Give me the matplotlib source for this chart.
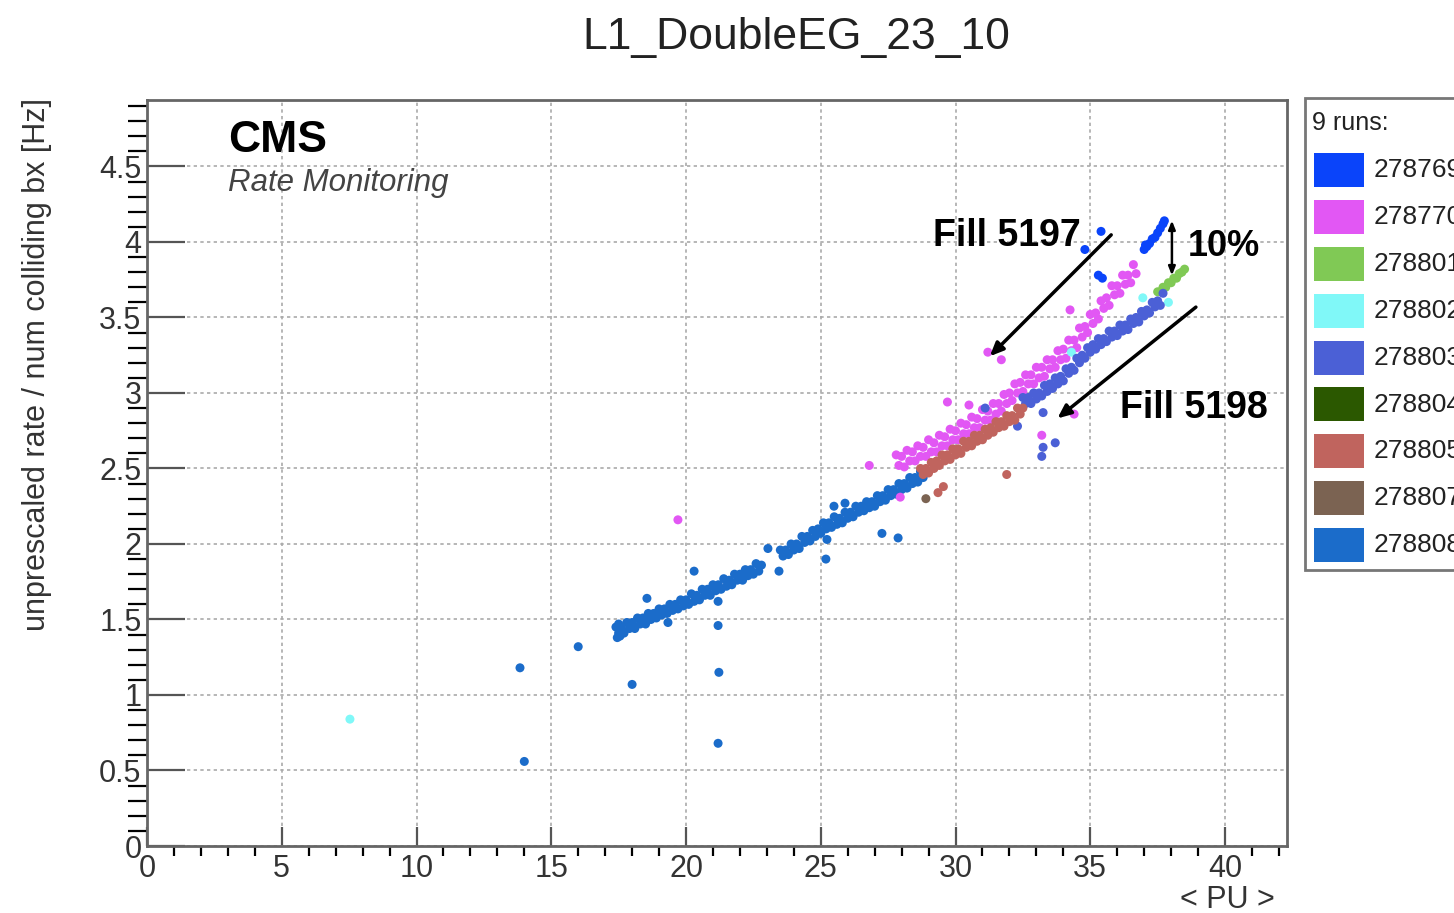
import matplotlib
matplotlib.use("Agg")
import matplotlib.pyplot as plt
from matplotlib.patches import Rectangle

plt.rcParams['font.family'] = ['Liberation Sans', 'DejaVu Sans']

runs = ["278769", "278770", "278801", "278802", "278803",
        "278804", "278805", "278807", "278808"]
colors = ["#0a44fa", "#e257f4", "#80c955", "#80f8f8", "#4b60d6",
          "#2b5800", "#c0645e", "#7b6352", "#1b6cca"]

# values: (< PU >, rate)
pu_278769 = [37.0, 37.05, 37.1, 37.2, 37.3, 37.4, 37.5, 37.6, 37.7, 37.75,
             35.4, 34.8, 35.3, 35.45]
rate_278769 = [3.95, 3.98, 3.97, 3.99, 4.02, 4.03, 4.06, 4.09, 4.12, 4.14,
               4.07, 3.95, 3.78, 3.76]

pu_278770 = [27.8, 27.9, 28.0, 28.1, 28.2, 28.3, 28.4, 28.5, 28.6, 28.7,
             28.8, 28.9, 29.0, 29.1, 29.2, 29.3, 29.4, 29.5, 29.6, 29.7,
             29.8, 29.9, 30.0, 30.1, 30.2, 30.3, 30.4, 30.5, 30.6, 30.7,
             30.8, 30.9, 31.0, 31.1, 31.2, 31.3, 31.4, 31.5, 31.6, 31.7,
             31.8, 31.9, 32.0, 32.1, 32.2, 32.3, 32.4, 32.5, 32.6, 32.7,
             32.8, 32.9, 33.0, 33.1, 33.2, 33.3, 33.4, 33.5, 33.6, 33.7,
             33.8, 33.9, 34.0, 34.1, 34.2, 34.3, 34.4, 34.5, 34.6, 34.7,
             34.8, 34.9, 35.0, 35.1, 35.2, 35.3, 35.4, 35.5, 35.6, 35.7,
             35.8, 35.9, 36.0, 36.1, 36.2, 36.3, 36.4, 36.5, 36.6, 36.7,
             31.2, 31.7, 29.7, 34.25, 34.4, 33.2, 30.5, 19.7, 26.8, 27.95]
rate_278770 = [2.59, 2.52, 2.58, 2.51, 2.62, 2.55, 2.61, 2.55, 2.65, 2.58,
               2.64, 2.58, 2.69, 2.61, 2.67, 2.61, 2.72, 2.65, 2.71, 2.65,
               2.76, 2.69, 2.75, 2.69, 2.80, 2.73, 2.79, 2.73, 2.84, 2.77,
               2.83, 2.77, 2.89, 2.82, 2.88, 2.82, 2.93, 2.86, 2.93, 2.88,
               2.99, 2.93, 3.00, 2.95, 3.06, 3.00, 3.07, 3.01, 3.12, 3.06,
               3.12, 3.06, 3.17, 3.10, 3.17, 3.11, 3.22, 3.16, 3.22, 3.17,
               3.28, 3.22, 3.29, 3.23, 3.35, 3.28, 3.35, 3.30, 3.43, 3.37,
               3.44, 3.40, 3.52, 3.46, 3.53, 3.49, 3.61, 3.56, 3.63, 3.58,
               3.71, 3.65, 3.71, 3.66, 3.78, 3.72, 3.78, 3.73, 3.85, 3.79,
               3.27, 3.22, 2.94, 3.55, 2.86, 2.72, 2.92, 2.16, 2.52, 2.31]

pu_278801 = [37.5, 37.6, 37.7, 37.8, 37.9, 38.0, 38.1, 38.2, 38.3, 38.4, 38.5]
rate_278801 = [3.67, 3.67, 3.70, 3.70, 3.73, 3.73, 3.76, 3.76, 3.79, 3.80, 3.82]

pu_278802 = [7.53, 36.95, 37.9, 34.3]
rate_278802 = [0.84, 3.63, 3.60, 3.27]

pu_278803 = [32.5, 32.6, 32.7, 32.8, 32.9, 33.0, 33.1, 33.2, 33.3, 33.4,
             33.5, 33.6, 33.7, 33.8, 33.9, 34.0, 34.1, 34.2, 34.3, 34.4,
             34.5, 34.6, 34.7, 34.8, 34.9, 35.0, 35.1, 35.2, 35.3, 35.4,
             35.5, 35.6, 35.7, 35.8, 35.9, 36.0, 36.1, 36.2, 36.3, 36.4,
             36.5, 36.6, 36.7, 36.8, 36.9, 37.0, 37.1, 37.2, 37.3, 37.4,
             37.5, 37.6, 37.7,
             33.25, 32.3, 33.25, 33.2, 33.7, 31.1]
rate_278803 = [2.97, 2.93, 2.97, 2.93, 3.00, 2.96, 3.00, 2.98, 3.05, 3.01,
               3.06, 3.03, 3.10, 3.06, 3.11, 3.08, 3.16, 3.13, 3.17, 3.15,
               3.23, 3.20, 3.25, 3.23, 3.30, 3.27, 3.32, 3.29, 3.36, 3.32,
               3.36, 3.34, 3.41, 3.37, 3.41, 3.38, 3.45, 3.41, 3.45, 3.42,
               3.49, 3.46, 3.50, 3.47, 3.54, 3.51, 3.55, 3.53, 3.60, 3.57,
               3.61, 3.58, 3.66,
               2.87, 2.78, 2.64, 2.58, 2.67, 2.90]

pu_278804 = []
rate_278804 = []

pu_278805 = [28.7, 28.8, 28.9, 29.0, 29.1, 29.2, 29.3, 29.4, 29.5, 29.6,
             29.7, 29.8, 29.9, 30.0, 30.1, 30.2, 30.3, 30.4, 30.5, 30.6,
             30.7, 30.8, 30.9, 31.0, 31.1, 31.2, 31.3, 31.4, 31.5, 31.6,
             31.7, 31.8, 31.9, 32.0, 32.1, 32.2, 32.3, 32.4, 32.5,
             29.55, 29.35, 31.9]
rate_278805 = [2.50, 2.46, 2.50, 2.47, 2.54, 2.50, 2.55, 2.52, 2.59, 2.55,
               2.59, 2.56, 2.63, 2.59, 2.63, 2.60, 2.68, 2.64, 2.68, 2.65,
               2.72, 2.68, 2.72, 2.69, 2.76, 2.72, 2.77, 2.74, 2.81, 2.77,
               2.81, 2.78, 2.85, 2.81, 2.85, 2.82, 2.90, 2.86, 2.90,
               2.38, 2.34, 2.46]

pu_278807 = [28.9]
rate_278807 = [2.30]

pu_278808 = [17.4, 17.45, 17.5, 17.5, 17.55, 17.6, 17.7, 17.8, 17.9, 18.0,
             18.1, 18.2, 18.3, 18.4, 18.5, 18.6, 18.7, 18.8, 18.9, 19.0,
             19.1, 19.2, 19.3, 19.4, 19.5, 19.6, 19.7, 19.8, 19.9, 20.0,
             20.1, 20.2, 20.3, 20.4, 20.5, 20.6, 20.7, 20.8, 20.9, 21.0,
             21.1, 21.2, 21.3, 21.4, 21.5, 21.6, 21.7, 21.8, 21.9, 22.0,
             22.1, 22.2, 22.3, 22.4, 22.5, 22.6, 22.7, 22.8,
             23.5, 23.6, 23.7, 23.8, 23.9, 24.0, 24.1, 24.2, 24.3, 24.4,
             24.5, 24.6, 24.7, 24.8, 24.9, 25.0, 25.1, 25.2, 25.3, 25.4,
             25.5, 25.6, 25.7, 25.8, 25.9, 26.0, 26.1, 26.2, 26.3, 26.4,
             26.5, 26.6, 26.7, 26.8, 26.9, 27.0, 27.1, 27.2, 27.3, 27.4,
             27.5, 27.6, 27.7, 27.8, 27.9, 28.0, 28.1, 28.2, 28.3, 28.4,
             28.5, 28.6, 28.7, 28.8, 28.9,
             13.84, 16.0, 18.0, 14.0, 21.19, 21.19, 21.22, 21.19, 20.3, 18.55,
             19.33, 23.45, 23.04, 25.23, 25.19, 27.27, 27.87, 25.49, 25.9]
rate_278808 = [1.45, 1.38, 1.41, 1.47, 1.39, 1.45, 1.41, 1.48, 1.44, 1.48,
               1.44, 1.51, 1.47, 1.51, 1.47, 1.54, 1.50, 1.54, 1.51, 1.57,
               1.53, 1.57, 1.54, 1.60, 1.56, 1.60, 1.57, 1.63, 1.59, 1.63,
               1.60, 1.67, 1.62, 1.66, 1.63, 1.70, 1.66, 1.70, 1.66, 1.73,
               1.69, 1.73, 1.70, 1.77, 1.72, 1.76, 1.73, 1.80, 1.76, 1.80,
               1.76, 1.83, 1.79, 1.83, 1.80, 1.87, 1.82, 1.86,
               1.96, 1.92, 1.96, 1.93, 2.00, 1.96, 2.00, 1.97, 2.05, 2.01,
               2.05, 2.02, 2.09, 2.05, 2.10, 2.07, 2.14, 2.10, 2.14, 2.11,
               2.18, 2.13, 2.17, 2.14, 2.21, 2.17, 2.21, 2.18, 2.25, 2.21,
               2.25, 2.22, 2.28, 2.24, 2.28, 2.25, 2.32, 2.28, 2.32, 2.29,
               2.36, 2.32, 2.36, 2.33, 2.40, 2.36, 2.40, 2.37, 2.44, 2.40,
               2.44, 2.41, 2.48, 2.44, 2.48,
               1.18, 1.32, 1.07, 0.56, 1.62, 1.46, 1.15, 0.68, 1.82, 1.64,
               1.48, 1.82, 1.97, 2.03, 1.90, 2.07, 2.04, 2.25, 2.27]

series_pu = [pu_278769, pu_278770, pu_278801, pu_278802, pu_278803,
             pu_278804, pu_278805, pu_278807, pu_278808]
series_rate = [rate_278769, rate_278770, rate_278801, rate_278802, rate_278803,
               rate_278804, rate_278805, rate_278807, rate_278808]

W, H = 1454, 913
fig = plt.figure(figsize=(W / 100, H / 100), dpi=100)
ax = fig.add_axes([147 / W, 1 - 846 / H, 1140 / W, 746 / H])

# draw the big run first so the later fills sit on top
order = [8, 0, 1, 2, 3, 4, 5, 6, 7]
for i in order:
    ax.scatter(series_pu[i], series_rate[i], s=42, color=colors[i],
               edgecolors='none', zorder=3)

ax.set_xlim(0, 42.3)
ax.set_ylim(0, 4.94)
ax.set_xticks(range(0, 45, 5))
ax.set_xticks(range(0, 43), minor=True)
ax.set_yticks([0, 0.5, 1, 1.5, 2, 2.5, 3, 3.5, 4, 4.5])
ax.set_yticks([k / 10 for k in range(0, 50)], minor=True)
ax.set_yticklabels(["0", "0.5", "1", "1.5", "2", "2.5", "3", "3.5", "4", "4.5"])
ax.tick_params(axis='both', direction='in', colors='#555555', labelcolor='#333333',
               labelsize=22, width=1.6)
ax.tick_params(axis='y', which='major', length=27, pad=4)
ax.tick_params(axis='y', which='minor', length=13.5, width=1.6)
ax.tick_params(axis='x', which='major', length=14, pad=6)
ax.tick_params(axis='x', which='minor', length=7, width=1.6)
ax.grid(True, which='major', color='#aaaaaa', linestyle=(0, (2, 2)), linewidth=1.2)
for sp in ax.spines.values():
    sp.set_color('#666666')
    sp.set_linewidth(2)

fig.text(0.548, 1 - 38 / H, "L1_DoubleEG_23_10", ha='center', va='center',
         fontsize=32, color='#222222')
fig.text(37 / W, 1 - 98 / H, "unprescaled rate / num colliding bx [Hz]",
         rotation=90, ha='center', va='top', fontsize=22, color='#333333')
fig.text(1275 / W, 1 - 900 / H, "< PU >", ha='right', va='center',
         fontsize=22, color='#333333')

ax.text(0.071, 0.946, "CMS", transform=ax.transAxes, fontsize=32,
        fontweight='bold', va='center', ha='left')
ax.text(0.071, 0.889, "Rate Monitoring", transform=ax.transAxes, fontsize=22.5,
        style='italic', va='center', ha='left', color='#444444')

# annotations
ax.text(31.9, 4.04, "Fill 5197", fontsize=27, fontweight='bold',
        ha='center', va='center')
ax.annotate("", xy=(31.2, 3.23), xytext=(35.85, 4.06),
            arrowprops=dict(arrowstyle='-|>,head_length=0.8,head_width=0.35',
                            color='black', lw=2.5))
ax.text(38.85, 2.90, "Fill 5198", fontsize=27, fontweight='bold',
        ha='center', va='center')
ax.annotate("", xy=(33.7, 2.82), xytext=(39.0, 3.58),
            arrowprops=dict(arrowstyle='-|>,head_length=0.8,head_width=0.35',
                            color='black', lw=2.5))
ax.annotate("", xy=(38.03, 3.76), xytext=(38.03, 4.16),
            arrowprops=dict(arrowstyle='<|-|>,head_length=0.5,head_width=0.2',
                            color='black', lw=1.8))
ax.text(38.6, 3.97, "10%", fontsize=26, fontweight='bold',
        ha='left', va='center')

# legend box, runs off the right edge like the original
lx0, ly0, lx1, ly1 = 1305, 98, 1560, 570
fig.patches.append(Rectangle((lx0 / W, 1 - ly1 / H), (lx1 - lx0) / W,
                             (ly1 - ly0) / H, transform=fig.transFigure,
                             facecolor='white', edgecolor='#777777', lw=2))
fig.text(1312 / W, 1 - 123 / H, "9 runs:", fontsize=18, ha='left',
         va='center', color='#222222')
for k, (run, c) in enumerate(zip(runs, colors)):
    yc = 170 + k * 46.9
    fig.patches.append(Rectangle((1314 / W, 1 - (yc + 17) / H), 50 / W, 34 / H,
                                 transform=fig.transFigure, facecolor=c,
                                 edgecolor='none'))
    fig.text(1374 / W, 1 - yc / H, run, fontsize=19, ha='left', va='center',
             color='#222222')

fig.savefig("out.png", dpi=100)
